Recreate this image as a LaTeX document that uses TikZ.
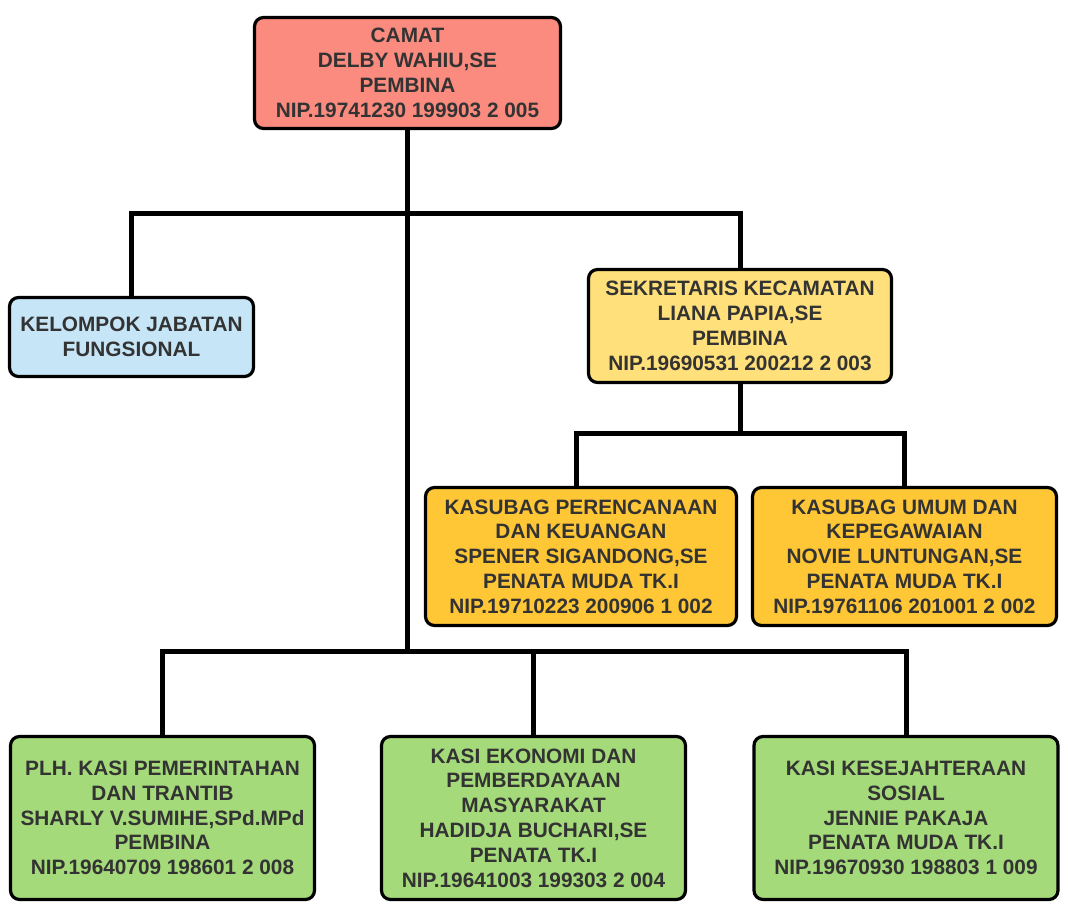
\documentclass[tikz,border=0pt]{standalone}
\usepackage{fontspec}
\setmainfont{Liberation Sans}
\usetikzlibrary{positioning}
\definecolor{textc}{HTML}{333333}
\definecolor{camatc}{HTML}{FA8B7E}
\definecolor{jfc}{HTML}{C6E5F7}
\definecolor{sekc}{HTML}{FFE07A}
\definecolor{subc}{HTML}{FFC735}
\definecolor{kasic}{HTML}{A5DA7A}
\tikzset{
  box/.style={draw=black,line width=3.2pt,rounded corners=9pt,align=center,text=textc,inner sep=2pt,
    font=\bfseries\fontsize{20.8}{24.8}\selectfont},
  camatbox/.style={box,fill=camatc,minimum width=306pt,minimum height=111pt},
  jfbox/.style={box,fill=jfc,minimum width=244pt,minimum height=79pt},
  sekbox/.style={box,fill=sekc,minimum width=303pt,minimum height=113pt},
  subbox/.style={box,fill=subc,minimum width=304pt,minimum height=138pt},
  kasibox/.style={box,fill=kasic,minimum width=304pt,minimum height=163pt},
  conn/.style={draw=black,line width=5pt},
}

\begin{document}
\begin{tikzpicture}[x=1pt,y=-1pt]
  \useasboundingbox (0,0) rectangle (1068,910);
  % bus levels
  \coordinate (busA) at (0,213);
  \coordinate (busB) at (0,433);
  \coordinate (busC) at (0,651);

  \node[camatbox] (camat) at (407.5,73) {CAMAT\\DELBY WAHIU,SE\\PEMBINA\\NIP.19741230 199903 2 005};
  \node[jfbox] (jf) at (131.5,337) {KELOMPOK JABATAN\\FUNGSIONAL};
  \node[sekbox] (sekcam) at (740,326) {SEKRETARIS KECAMATAN\\LIANA PAPIA,SE\\PEMBINA\\NIP.19690531 200212 2 003};
  \node[subbox,minimum width=311pt] (renkeu) at (581,556.5) {KASUBAG PERENCANAAN\\DAN KEUANGAN\\SPENER SIGANDONG,SE\\PENATA MUDA TK.I\\NIP.19710223 200906 1 002};
  \node[subbox] (umpeg) at (904.5,556.5) {KASUBAG UMUM DAN\\KEPEGAWAIAN\\NOVIE LUNTUNGAN,SE\\PENATA MUDA TK.I\\NIP.19761106 201001 2 002};
  \node[kasibox] (pemtrantib) at (162.5,818) {PLH. KASI PEMERINTAHAN\\DAN TRANTIB\\SHARLY V.SUMIHE,SPd.MPd\\PEMBINA\\NIP.19640709 198601 2 008};
  \node[kasibox] (ekonomi) at (533.5,818) {KASI EKONOMI DAN\\PEMBERDAYAAN\\MASYARAKAT\\HADIDJA BUCHARI,SE\\PENATA TK.I\\NIP.19641003 199303 2 004};
  \node[kasibox] (kesos) at (906,818) {KASI KESEJAHTERAAN\\SOSIAL\\JENNIE PAKAJA\\PENATA MUDA TK.I\\NIP.19670930 198803 1 009};

  % connectors
  \draw[conn] (camat.south) -- (camat.south |- busC);
  \draw[conn] (jf.north) -- (jf.north |- busA) -- (sekcam.north |- busA) -- (sekcam.north);
  \draw[conn] (sekcam.south) -- (sekcam.south |- busB);
  \draw[conn] ([xshift=-5pt]renkeu.north) -- ([xshift=-5pt]renkeu.north |- busB) -- (umpeg.north |- busB) -- (umpeg.north);
  \draw[conn] (pemtrantib.north) -- (pemtrantib.north |- busC) -- (kesos.north |- busC) -- (kesos.north);
  \draw[conn] (ekonomi.north) -- (ekonomi.north |- busC);
\end{tikzpicture}
\end{document}
